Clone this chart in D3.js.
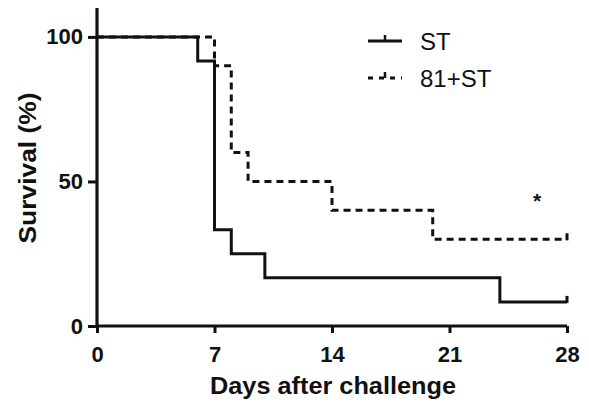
<!DOCTYPE html>
<html>
<head>
<meta charset="utf-8">
<script src="https://cdnjs.cloudflare.com/ajax/libs/d3/7.8.5/d3.min.js"></script>
<style>
  body { margin: 0; background: #fff; }
</style>
</head>
<body>
<div id="chart"></div>
<script>
// survival steps: [day, percent]
var stSteps = [[0, 100], [6, 91.67], [7, 33.33], [8, 25], [10, 16.67], [24, 8.33], [28, 8.33]];
var combSteps = [[0, 100], [7, 90], [8, 60], [9, 50], [14, 40], [20, 30], [28, 30]];
var seriesNames = ["ST", "81+ST"];
var xTicks = [0, 7, 14, 21, 28];
var yTicks = [0, 50, 100];

var width = 589, height = 404;
var font = "Liberation Sans, Arial, sans-serif";

var svg = d3.select("#chart")
            .append("svg")
            .attr("width", width)
            .attr("height", height);

var x = d3.scaleLinear().domain([0, 28]).range([97, 567]);
var y = d3.scaleLinear().domain([0, 110]).range([326, 8]);

// Axes
var xAxis = svg.append("g")
    .attr("transform", "translate(0," + y(0) + ")")
    .call(d3.axisBottom(x).tickValues(xTicks).tickSize(7).tickPadding(13));
var yAxis = svg.append("g")
    .attr("transform", "translate(" + x(0) + ",0)")
    .call(d3.axisLeft(y).tickValues(yTicks).tickSize(9).tickPadding(5));

[xAxis, yAxis].forEach(function(ax) {
    ax.attr("font-size", null).attr("font-family", null);
    ax.select(".domain").attr("stroke", "#111").attr("stroke-width", 3.2);
    ax.selectAll(".tick line").attr("stroke", "#111").attr("stroke-width", 3);
    ax.selectAll(".tick text")
        .attr("fill", "#111")
        .style("font-family", font)
        .style("font-size", "22px")
        .style("font-weight", "bold");
});
// y axis runs to the top, no outer ticks
yAxis.select(".domain").attr("d", "M0," + y(110) + "V" + y(0));
xAxis.select(".domain").attr("d", "M" + x(0) + ",0H" + x(28));

// Survival curves
var stepLine = d3.line()
    .x(function(d) { return x(d[0]); })
    .y(function(d) { return y(d[1]); })
    .curve(d3.curveStepAfter);

svg.append("path")
    .datum(stSteps)
    .attr("d", stepLine)
    .attr("fill", "none")
    .attr("stroke", "#111")
    .attr("stroke-width", 3);

svg.append("path")
    .datum(combSteps)
    .attr("d", stepLine)
    .attr("fill", "none")
    .attr("stroke", "#111")
    .attr("stroke-width", 3)
    .attr("stroke-dasharray", "7,5");

// censor ticks at end
[stSteps, combSteps].forEach(function(s) {
    var last = s[s.length - 1];
    svg.append("line")
        .attr("x1", x(last[0])).attr("x2", x(last[0]))
        .attr("y1", y(last[1]) + 1).attr("y2", y(last[1]) - 6)
        .attr("stroke", "#111")
        .attr("stroke-width", 3);
});

// Legend
var legend = svg.append("g");
seriesNames.forEach(function(name, i) {
    var ly = 41 + i * 37;
    legend.append("line")
        .attr("x1", 368).attr("x2", 402)
        .attr("y1", ly).attr("y2", ly)
        .attr("stroke", "#111")
        .attr("stroke-width", 3)
        .attr("stroke-dasharray", i === 1 ? "5,6" : null);
    legend.append("line")
        .attr("x1", 385).attr("x2", 385)
        .attr("y1", ly).attr("y2", ly - 6)
        .attr("stroke", "#111")
        .attr("stroke-width", 2.5);
    legend.append("text")
        .text(name)
        .attr("x", 420)
        .attr("y", ly + 9)
        .attr("font-family", font)
        .attr("font-size", "24px")
        .attr("fill", "#111");
});

// significance mark
svg.append("text")
    .text("*")
    .attr("x", 537)
    .attr("y", 208)
    .attr("text-anchor", "middle")
    .attr("font-family", font)
    .attr("font-size", "21px")
    .attr("font-weight", "bold")
    .attr("fill", "#111");

// Axis titles
svg.append("text")
    .text("Days after challenge")
    .attr("x", 333)
    .attr("y", 394)
    .attr("text-anchor", "middle")
    .attr("textLength", 246)
    .attr("lengthAdjust", "spacingAndGlyphs")
    .attr("font-family", font)
    .attr("font-size", "23px")
    .attr("font-weight", "bold")
    .attr("fill", "#111");

svg.append("text")
    .text("Survival (%)")
    .attr("transform", "translate(36,168) rotate(-90)")
    .attr("text-anchor", "middle")
    .attr("textLength", 151)
    .attr("lengthAdjust", "spacingAndGlyphs")
    .attr("font-family", font)
    .attr("font-size", "23px")
    .attr("font-weight", "bold")
    .attr("fill", "#111");
</script>
</body>
</html>
